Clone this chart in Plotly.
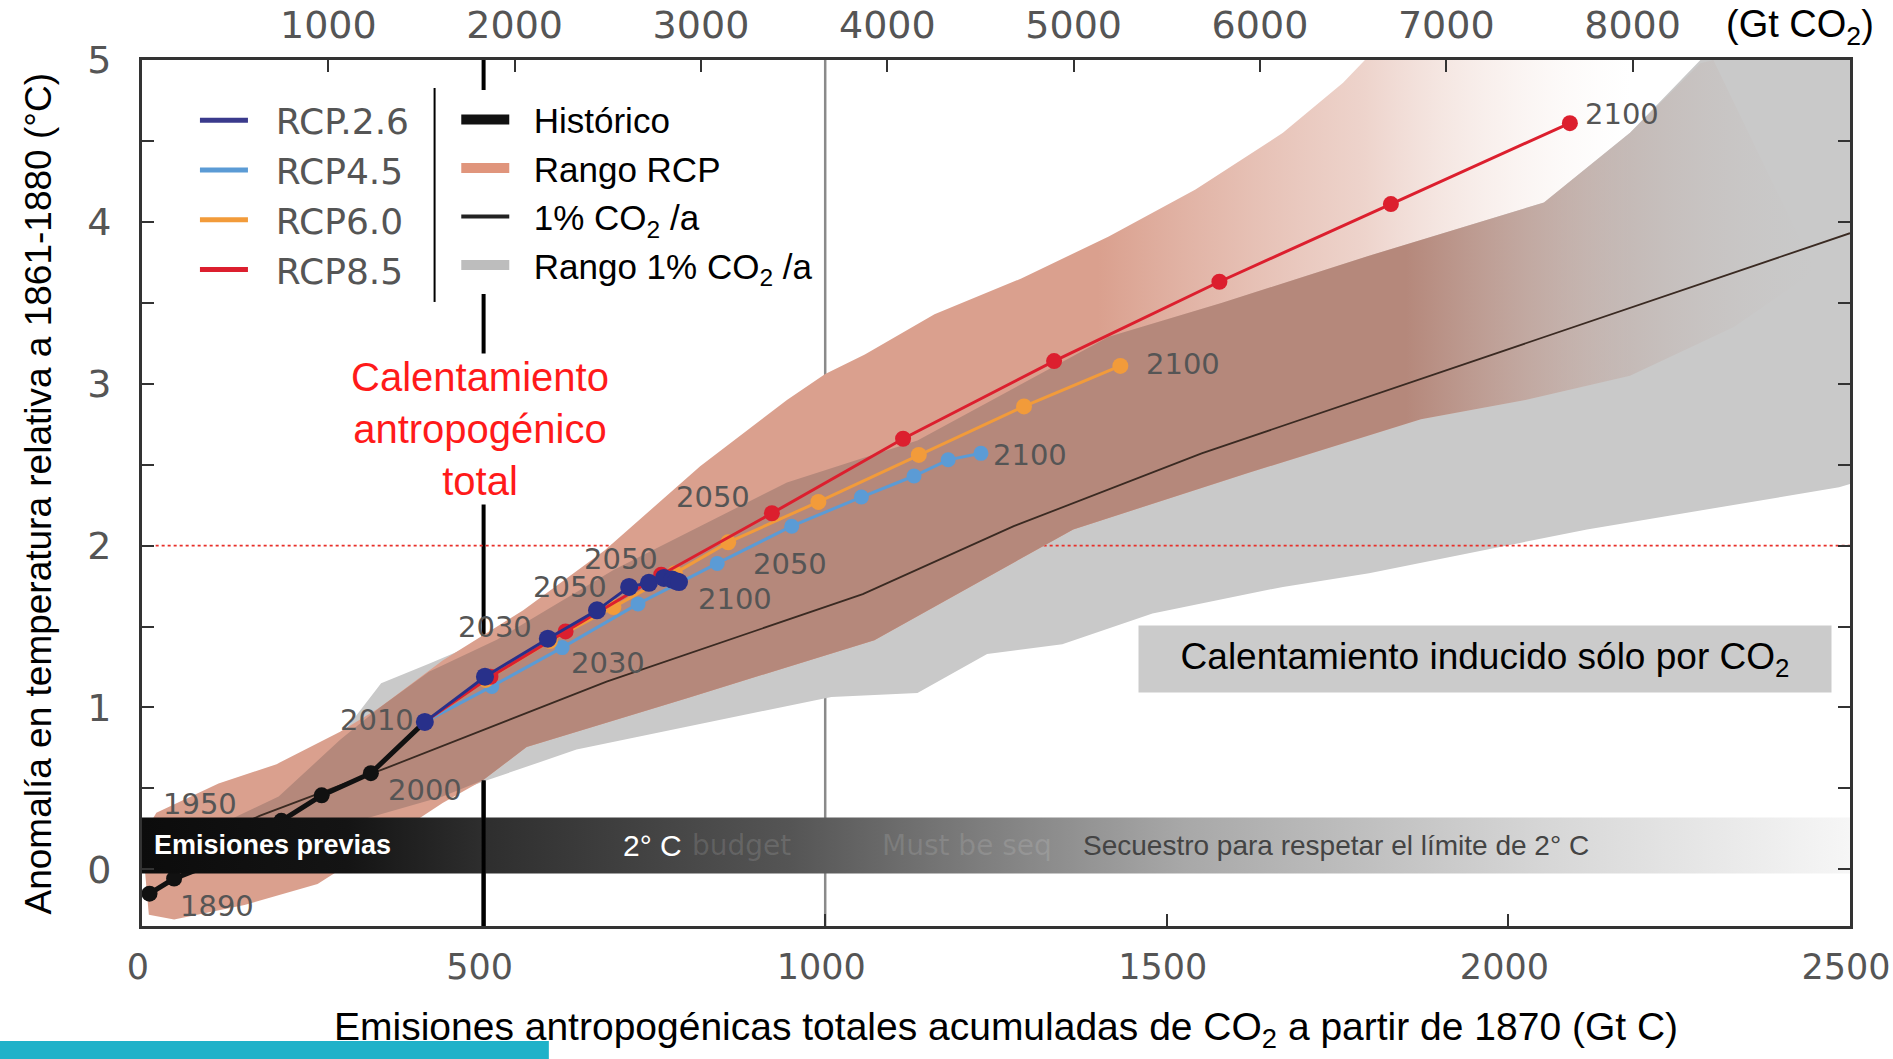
import plotly.graph_objects as go

# ---------------- data (Gt C on x, °C on y) ----------------
hist_x = [11, 47, 100, 150, 204, 263, 335, 414]
hist_y = [-0.15, -0.057, 0.03, 0.14, 0.30, 0.457, 0.594, 0.911]

rcp26_x = [414, 502, 594, 666, 713, 742, 764, 776, 782, 786]
rcp26_y = [0.911, 1.19, 1.425, 1.60, 1.745, 1.77, 1.80, 1.79, 1.78, 1.775]
rcp45_x = [414, 512, 615, 726, 842, 951, 1053, 1130, 1180, 1228]
rcp45_y = [0.911, 1.13, 1.37, 1.64, 1.89, 2.12, 2.30, 2.43, 2.53, 2.57]
rcp60_x = [414, 503, 597, 690, 780, 858, 990, 1137, 1291, 1432]
rcp60_y = [0.911, 1.17, 1.41, 1.62, 1.83, 2.02, 2.27, 2.56, 2.86, 3.11]
rcp85_x = [414, 510, 620, 760, 922, 1114, 1335, 1577, 1828, 2090]
rcp85_y = [0.911, 1.19, 1.47, 1.82, 2.20, 2.66, 3.14, 3.63, 4.11, 4.61]

pct1_x = [0, 172, 360, 680, 1055, 1276, 1551, 2500]
pct1_y = [0.0, 0.33, 0.63, 1.16, 1.70, 2.12, 2.57, 3.93]

# RCP range (salmon)
pink_x = [0, 21, 112, 197, 290, 348, 440, 558, 677, 817, 944, 1000, 1058, 1160, 1287, 1415, 1542, 1670, 1758, 1790,
          2300, 2380, 2450,
          2330, 2178, 2025, 1872, 1620, 1363, 1072, 800, 563, 499, 440, 350, 257, 150, 47, 10, 0]
pink_y = [0.2, 0.35, 0.53, 0.65, 0.85, 1.0, 1.29, 1.6, 1.97, 2.49, 2.9, 3.06, 3.18, 3.43, 3.65, 3.91, 4.2, 4.55, 4.86, 5.0,
          5.0, 4.3, 3.7,
          3.35, 3.05, 2.9, 2.78, 2.45, 2.10, 1.416, 1.06, 0.756, 0.55, 0.41, 0.16, -0.09, -0.22, -0.31, -0.28, 0.2]

# overlap of both ranges (brown)
over_x = [20, 100, 200, 290, 348, 420, 520, 690, 944, 1135, 1415, 1581, 1796, 2052, 2178, 2281, 2300,
          2380, 2450,
          2330, 2178, 2025, 1872, 1620, 1363, 1072, 800, 563, 499, 440, 250, 100, 20]
over_y = [0.1, 0.25, 0.45, 0.80, 1.0, 1.22, 1.42, 1.85, 2.39, 2.65, 3.29, 3.50, 3.79, 4.12, 4.55, 4.98, 5.0,
          4.3, 3.7,
          3.35, 3.05, 2.9, 2.78, 2.45, 2.10, 1.416, 1.06, 0.756, 0.55, 0.45, 0.22, 0.05, 0.1]

# 1% CO2/yr range (gray)
gray_x = [0, 100, 200, 290, 350, 420, 520, 690, 944, 1135, 1415, 1581, 1796, 2052, 2178, 2281, 2500,
          2500, 2484, 2115, 1796, 1670, 1479, 1347, 1237, 1135, 1009, 636, 505, 440, 250, 100, 0]
gray_y = [0, 0.22, 0.45, 0.82, 1.15, 1.27, 1.45, 1.85, 2.39, 2.65, 3.29, 3.50, 3.79, 4.12, 4.55, 5.0, 5.0,
          2.38, 2.36, 2.1, 1.83, 1.745, 1.58, 1.39, 1.33, 1.09, 1.065, 0.74, 0.55, 0.45, 0.22, 0.05, 0]

# year labels
lab_text = ["2100", "2100", "2100", "2050", "2050", "2050", "2050", "2100", "2030", "2030",
            "2010", "2000", "1950", "1890"]
lab_x = [2166, 1523, 1300, 836, 701, 949, 627, 868, 517, 682, 344, 414, 85, 110]
lab_y = [4.665, 3.12, 2.56, 2.30, 1.917, 1.887, 1.746, 1.671, 1.499, 1.275, 0.924, 0.491, 0.402, -0.225]

x_ticks = [0, 500, 1000, 1500, 2000, 2500]
y_ticks = [0, 1, 2, 3, 4, 5]
co2_ticks = [1000, 2000, 3000, 4000, 5000, 6000, 7000, 8000]
C_TO_CO2 = 44 / 12
X_MAX, Y_MIN, Y_MAX = 2500, -0.35, 5
BAND_LO, BAND_HI = -0.025, 0.32
LIMIT_2C = 2
BUDGET_LINE, REF_LINE = 500, 1000

# ---------------- styles ----------------
ARIAL = "Liberation Sans, Arial, sans-serif"
WIDE = "DejaVu Sans, Verdana, sans-serif"
C26, C45, C60, C85 = "#28308a", "#5b9bd5", "#f29b3a", "#dc1f2e"
GRAY = "#c9c9c9"
NB = "\u00a0\u00a0"

fig = go.Figure()

fig.add_trace(go.Scatter(x=gray_x, y=gray_y, fill="toself", fillcolor=GRAY, mode="lines",
                         line=dict(width=0, color=GRAY), showlegend=False, hoverinfo="skip"))
fig.add_trace(go.Scatter(x=[20, X_MAX], y=[LIMIT_2C, LIMIT_2C], mode="lines",
                         line=dict(color="#e8302a", width=1.6, dash="dot"), showlegend=False, hoverinfo="skip"))
fig.add_trace(go.Scatter(x=pink_x, y=pink_y, fill="toself", mode="lines", line=dict(width=0, color="#daa08e"),
                         fillgradient=dict(type="horizontal", start=1400, stop=2180,
                                           colorscale=[[0, "rgba(218,160,142,1)"],
                                                       [0.5, "rgba(228,188,176,0.65)"],
                                                       [1, "rgba(245,235,230,0)"]]),
                         showlegend=False, hoverinfo="skip"))
fig.add_trace(go.Scatter(x=over_x, y=over_y, fill="toself", mode="lines", line=dict(width=0, color="#b5887b"),
                         fillgradient=dict(type="horizontal", start=1850, stop=2450,
                                           colorscale=[[0, "rgba(181,136,123,1)"],
                                                       [1, "rgba(200,195,193,0)"]]),
                         showlegend=False, hoverinfo="skip"))
fig.add_trace(go.Scatter(x=pct1_x, y=pct1_y, mode="lines", line=dict(color="#3a2a22", width=1.8),
                         showlegend=False, hoverinfo="skip"))
fig.add_trace(go.Scatter(x=hist_x, y=hist_y, mode="lines+markers", line=dict(color="#111", width=5),
                         marker=dict(color="#111", size=16), showlegend=False, hoverinfo="skip"))
fig.add_trace(go.Scatter(x=[0, X_MAX, X_MAX, 0, 0], y=[BAND_LO, BAND_LO, BAND_HI, BAND_HI, BAND_LO],
                         fill="toself", mode="lines", line=dict(width=0, color="#111"),
                         fillgradient=dict(type="horizontal", start=0, stop=X_MAX,
                                           colorscale=[[0, "#0c0c0c"], [0.12, "#141414"], [0.2, "#2e2e2e"],
                                                       [0.38, "#555555"], [0.47, "#767676"], [0.61, "#a8a8a8"],
                                                       [0.82, "#d6d6d6"], [1, "#f6f6f6"]]),
                         showlegend=False, hoverinfo="skip"))
for xs, ys, col, ms in [(rcp45_x, rcp45_y, C45, 15), (rcp60_x, rcp60_y, C60, 16),
                        (rcp85_x, rcp85_y, C85, 16), (rcp26_x, rcp26_y, C26, 18)]:
    fig.add_trace(go.Scatter(x=xs, y=ys, mode="lines+markers", line=dict(color=col, width=3),
                             marker=dict(color=col, size=ms), showlegend=False, hoverinfo="skip"))

# legend entries
for name, col in [("RCP.2.6", "#3a3a8c"), ("RCP4.5", C45), ("RCP6.0", C60), ("RCP8.5", C85)]:
    fig.add_trace(go.Scatter(x=[None], y=[None], mode="lines", line=dict(color=col, width=5),
                             name=NB + name, legend="legend"))
for name, col, w in [("Histórico", "#111", 12), ("Rango RCP", "#e0957c", 20),
                     ("1% CO<sub>2</sub> /a", "#222", 4), ("Rango 1% CO<sub>2</sub> /a", "#bdbdbd", 20)]:
    fig.add_trace(go.Scatter(x=[None], y=[None], mode="lines", line=dict(color=col, width=w),
                             name=NB + name, legend="legend2"))
fig.add_trace(go.Scatter(x=[None], y=[None], xaxis="x2", showlegend=False, hoverinfo="skip"))

for t, x, y in zip(lab_text, lab_x, lab_y):
    fig.add_annotation(x=x, y=y, text=t, showarrow=False, xanchor="center", yanchor="middle",
                       font=dict(family=WIDE, size=29, color="#555"))

band_mid = (BAND_LO + BAND_HI) / 2
fig.add_annotation(x=191, y=band_mid, text="<b>Emisiones previas</b>", showarrow=False,
                   xanchor="center", yanchor="middle", font=dict(family=ARIAL, size=27, color="white"))
fig.add_annotation(x=747, y=band_mid, text="2° C", showarrow=False, xanchor="center", yanchor="middle",
                   font=dict(family=ARIAL, size=30, color="white"))
fig.add_annotation(x=877, y=band_mid, text="budget", showarrow=False, xanchor="center", yanchor="middle",
                   font=dict(family=WIDE, size=28, color="rgba(255,255,255,0.13)"))
fig.add_annotation(x=1208, y=band_mid, text="Must be seq", showarrow=False, xanchor="center", yanchor="middle",
                   font=dict(family=WIDE, size=28, color="rgba(255,255,255,0.12)"))
fig.add_annotation(x=1748, y=band_mid, text="Secuestro para respetar el límite de 2° C", showarrow=False,
                   xanchor="center", yanchor="middle", font=dict(family=ARIAL, size=28, color="#444"))

fig.add_annotation(x=494, y=2.72, text="Calentamiento<br>antropogénico<br>total", showarrow=False,
                   xanchor="center", yanchor="middle", bgcolor="white",
                   font=dict(family=ARIAL, size=40, color="#ff1a1a"), align="center")
fig.add_annotation(x=1966, y=1.30, text="Calentamiento inducido sólo por CO<sub>2</sub>", showarrow=False,
                   xanchor="center", yanchor="middle", bgcolor="#cbcbcb", width=690, height=64,
                   font=dict(family=ARIAL, size=37, color="black"))

fig.add_annotation(xref="paper", yref="paper", x=0.506, y=-0.119, xanchor="center", yanchor="middle",
                   showarrow=False,
                   text="Emisiones antropogénicas totales acumuladas de CO<sub>2</sub> a partir de 1870 (Gt C)",
                   font=dict(family=ARIAL, size=39, color="black"))
fig.add_annotation(xref="paper", yref="paper", x=-0.0606, y=0.5, xanchor="center", yanchor="middle",
                   showarrow=False, textangle=-90,
                   text="Anomalía en temperatura relativa a 1861-1880 (°C)",
                   font=dict(family=ARIAL, size=37, color="black"))
fig.add_annotation(xref="paper", yref="paper", x=0.971, y=1.038, xanchor="center", yanchor="middle",
                   showarrow=False, text="(Gt CO<sub>2</sub>)", font=dict(family=ARIAL, size=38, color="black"))

fig.add_shape(type="line", x0=REF_LINE, x1=REF_LINE, y0=Y_MIN, y1=Y_MAX, layer="below",
              line=dict(color="#8a8a8a", width=2.5))
fig.add_shape(type="line", x0=BUDGET_LINE, x1=BUDGET_LINE, y0=Y_MIN, y1=Y_MAX, layer="below",
              line=dict(color="black", width=4))
fig.add_shape(type="line", x0=BUDGET_LINE, x1=BUDGET_LINE, y0=Y_MIN, y1=0.55, layer="above",
              line=dict(color="black", width=4))
fig.add_shape(type="line", xref="paper", yref="paper", x0=0.1713, x1=0.1713, y0=0.7206, y1=0.9677,
              line=dict(color="black", width=2))
fig.add_shape(type="rect", xref="paper", yref="paper", x0=-0.0835, x1=0.2382, y0=-0.1536, y1=-0.1328,
              fillcolor="#1fb2c9", line=dict(width=0))

axis_line = dict(showline=True, linecolor="#333", linewidth=3, showgrid=False, zeroline=False,
                 automargin=False, ticklabeloverflow="allow")
tickfont = dict(family=WIDE, size=38, color="#555")
fig.update_layout(
    width=1893, height=1059, margin=dict(l=142, r=43, t=60, b=133),
    plot_bgcolor="white", paper_bgcolor="white",
    xaxis=dict(range=[0, X_MAX], tickvals=x_ticks, ticks="inside", ticklen=12, tickwidth=2, tickcolor="#333",
               tickfont=dict(family=WIDE, size=35, color="#555"), ticklabelstandoff=8, ticklabelshift=-4,
               **axis_line),
    xaxis2=dict(overlaying="x", side="top", range=[0, X_MAX * C_TO_CO2], tickvals=co2_ticks,
                ticks="inside", ticklen=12, tickwidth=2, tickcolor="#333", tickfont=tickfont,
                ticklabelstandoff=4, **axis_line),
    yaxis=dict(range=[Y_MIN, Y_MAX], tickvals=y_ticks, ticks="inside", ticklen=12, tickwidth=2,
               tickcolor="#333", mirror="ticks",
               minor=dict(tick0=0, dtick=0.5, ticks="inside", ticklen=12, tickwidth=2, tickcolor="#333"),
               tickfont=tickfont, ticklabelstandoff=20, **axis_line),
    legend=dict(x=0.031, y=0.965, xanchor="left", yanchor="top", bgcolor="rgba(255,255,255,0)",
                font=dict(family=WIDE, size=36, color="#555"), itemwidth=48),
    legend2=dict(x=0.184, y=0.965, xanchor="left", yanchor="top", bgcolor="white",
                 font=dict(family=ARIAL, size=35, color="black"), itemwidth=48),
    showlegend=True,
)

fig.write_html("out.html", config={"displayModeBar": False},
               post_script="document.body.style.margin='0px';")
